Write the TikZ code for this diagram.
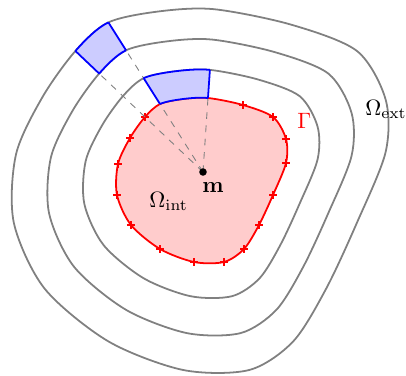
\documentclass[tikz,border=0pt]{standalone}
\tikzset{
  level/.style={draw=black!50, thick},
  bnd/.style={draw=red, thick, fill=red!20, mark=+, mark size=1.6pt, mark indices={1,...,15}},
  cell/.style={draw=blue, thick},
  cellfill/.style={fill=blue!20, even odd rule},
  ray/.style={dashed, draw=black!50, thin},
  dot/.style={circle, fill=black, inner sep=0pt, minimum size=3.4pt},
  lbl/.style={inner sep=0pt, anchor=base west},
}
% closed curve through the sample points, scaled by #1 about m
\newcommand{\blob}[1]{plot[smooth cycle] coordinates {
  ({#1*(-58)},{#1*55}) ({#1*(-73)},{#1*34}) ({#1*(-85)},{#1*8}) ({#1*(-86)},{#1*(-23)})
  ({#1*(-72)},{#1*(-53)}) ({#1*(-43)},{#1*(-77)}) ({#1*(-9)},{#1*(-90)}) ({#1*21},{#1*(-90)})
  ({#1*41},{#1*(-77)}) ({#1*56},{#1*(-53)}) ({#1*70},{#1*(-23)}) ({#1*83},{#1*9})
  ({#1*83},{#1*33}) ({#1*70},{#1*55}) ({#1*40},{#1*67}) ({#1*5},{#1*74})
  ({#1*(-20)},{#1*73}) ({#1*(-43)},{#1*68})}}
\begin{document}
\begin{tikzpicture}[x=0.45pt, y=0.45pt]
  \useasboundingbox (-203,-204) rectangle (203,172);
  \coordinate (m) at (0,0);
  % level curves
  \draw[level] \blob{1.38};
  \draw[level] \blob{1.79};
  \draw[level] \blob{2.2};
  % interior domain
  \draw[bnd] \blob{1};
  % rays from m
  \coordinate (r16) at (5,74);
  \coordinate (r16a) at ({1.38*5},{1.38*74});
  \coordinate (r17) at (-43,68);
  \coordinate (r17a) at ({1.38*(-43)},{1.38*68});
  \coordinate (r17b) at ({1.79*(-43)},{1.79*68});
  \coordinate (r17c) at ({2.2*(-43)},{2.2*68});
  \coordinate (r1b) at ({1.79*(-58)},{1.79*55});
  \coordinate (r1c) at ({2.2*(-58)},{2.2*55});
  \draw[ray] (m) -- (r16);
  \draw[ray] (m) -- (r17b);
  \draw[ray] (m) -- (r1b);
  % cells
  \begin{scope}
    \clip (m) -- (20,296) -- (-172,272) -- cycle;
    \fill[cellfill] \blob{1.38} \blob{1};
    \draw[cell] \blob{1.38} \blob{1};
  \end{scope}
  \draw[cell] (r16) -- (r16a);
  \draw[cell] (r17) -- (r17a);
  \begin{scope}
    \clip (m) -- (-172,272) -- (-232,220) -- cycle;
    \fill[cellfill] \blob{2.2} \blob{1.79};
    \draw[cell] \blob{2.2} \blob{1.79};
  \end{scope}
  \draw[cell] (r17b) -- (r17c);
  \draw[cell] (r1b) -- (r1c);
  % labels
  \node[dot] (mdot) at (m) {};
  \node[lbl] (mlab) at (-1,-20) {$\mathbf{m}$};
  \node[lbl] (omint) at (-54,-35) {$\Omega_{\mathrm{int}}$};
  \node[lbl, red] (gam) at (94,44) {$\Gamma$};
  \node[lbl] (omext) at (162,57) {$\Omega_{\mathrm{ext}}$};
\end{tikzpicture}
\end{document}
